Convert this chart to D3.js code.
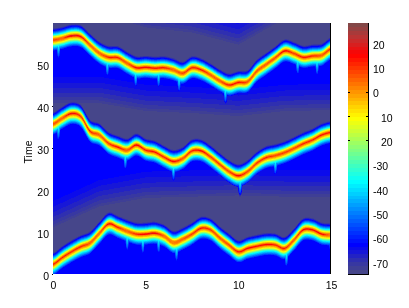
<!DOCTYPE html>
<html><head><meta charset="utf-8">
<script src="https://cdn.jsdelivr.net/npm/d3@7"></script>
<style>
html,body{margin:0;padding:0;background:#fff;width:409px;height:308px;overflow:hidden}
#c,#s{position:absolute;left:0;top:0}
text{font-family:"Liberation Sans",Arial,sans-serif;font-size:10.5px;fill:#000}
</style></head><body>
<canvas id="c" width="409" height="308"></canvas>
<svg id="s" width="409" height="308"></svg>
<script>
// Values
const xKnots = d3.range(31).map(i => i * 0.5);
const ridgeTop = [55.7,56.1,56.7,56.5,54.5,52.6,51.6,51.5,50.2,49.1,49.2,49.0,49.1,48.6,47.8,49.1,48.6,47.4,46.0,45.0,45.6,45.8,48.3,49.9,51.5,53.1,52.5,51.6,51.9,52.1,53.6];
const ridgeMid = [35.7,37.1,38.2,37.5,34.0,33.1,31.1,30.2,29.5,30.7,29.5,29.0,27.8,26.8,27.5,29.3,29.3,27.9,26.1,24.4,23.4,24.4,26.4,27.7,28.2,28.9,29.9,31.0,31.9,33.1,33.7];
const ridgeBot = [2.3,3.9,5.3,6.5,7.4,9.7,11.9,11.1,10.2,9.5,9.5,9.7,9.0,7.5,8.3,9.5,10.9,10.5,8.6,6.9,5.3,6.1,6.6,7.0,6.9,6.1,8.1,10.5,10.5,9.5,9.3];
const peakTop = [10,5,23,17,5,4,13,13,5,17,17,16,15,4,9,13,15,6,6,15,15,8,6,6,8,19,8,15,13,6,13];
const peakMid = [8,5,19,10,13,5,10,16,5,18,13,15,12,17,6,13,17,10,10,8,17,8,10,13,8,10,8,13,12,15,15];
const peakBot = [13,13,12,13,6,4,17,13,3,13,19,20,4,2,6,10,15,10,6,8,13,17,15,17,13,13,5,17,17,17,1];
const spursTop = [0.3,2.93,4.46,5.7,6.8,9.3,13.2,14.25];
const spursMid = [0.3,3.9,6.5,10.1,12.0];
const spursBot = [4.0,4.85,5.7,6.67,12.6,15.0];
const edgeKnots = [0,2.5,5,7.5,10,12.5,15];
const grayEdge0 = [62,62,58.6,57.4,54.5,60.7,62];
const grayEdge1 = [40.6,40.6,38.7,38.2,37.5,38.7,38.9];
const grayEdge2 = [11.0,16.0,18.0,18.3,18.6,18.3,18.3];
const profileUpDist = [0.3,0.7,1.0,1.25,2.1,2.9];
const profileUpLevel = [2,-11,-24,-37,-60,-75];
const profileDownDist = [0.3,0.8,1.15,1.5,2.5,3.2];
const profileDownLevel = [2,-11,-24,-37,-60,-90];
const colorKnots = [-75,-70,-63,-37,-24,-11,2,15,22,28.2];
const colorStops = ["#4a4a84","#3434a8","#0000ff","#00ffff","#80ff80","#ffff00","#ff8000","#ff0000","#c03232","#7a4a4a"];
const yTicks = [0,10,20,30,40,50];
const xTicks = [0,5,10,15];
const cbarValues = [20,10,0,-10,-20,-30,-40,-50,-60,-70];
const cbarLabels = ["20","10","0","10","20","-30","-40","-50","-60","-70"];
const cbarMarked = [0,-10,-20];

const plot = {l:53,r:331,t:23,b:274};
const xS = d3.scaleLinear().domain([0,15]).range([plot.l,plot.r]);
const yS = d3.scaleLinear().domain([0,59.76]).range([plot.b,plot.t]);
const cbar = {l:348,r:368,t:23,b:274};
const cS = d3.scaleLinear().domain([-75,28.2]).range([cbar.b,cbar.t]);

const smooth = d3.scaleLinear().domain(colorKnots).range(colorStops).interpolate(d3.interpolateRgb);
const palette = d3.range(64).map(i => smooth(-75 + (i + .5) * 103.2 / 64));
const quant = d3.scaleQuantize().domain([-75,28.2]).range(palette);

const lerp = (k,v) => d3.scaleLinear().domain(k).range(v).clamp(true);
const spline = a => x => {
  const u = Math.max(0,Math.min(a.length-1.0001,x/0.5)), i = Math.floor(u), f = u-i;
  const p0=a[Math.max(i-1,0)],p1=a[i],p2=a[i+1],p3=a[Math.min(i+2,a.length-1)];
  return 0.5*((2*p1)+(-p0+p2)*f+(2*p0-5*p1+4*p2-p3)*f*f+(-p0+3*p1-3*p2+p3)*f*f*f);
};
const ridges = [ridgeTop,ridgeMid,ridgeBot].map(spline);
const peaks = [peakTop,peakMid,peakBot].map(a => lerp(xKnots,a));
const edges = [grayEdge0,grayEdge1,grayEdge2].map(a => lerp(edgeKnots,a));
const spurs = [spursTop,spursMid,spursBot];
const spans = [7,7,7];
const upP = lerp(profileUpDist,profileUpLevel);
const downP = lerp(profileDownDist,profileDownLevel);
const spurL = lerp([1.2,2.6,4.0,5.5],[-34,-44,-56,-80]);

function field(x,t){
  const r = ridges.map(f => f(x));
  let bg = -63;
  const gap = t>r[0] ? 0 : t>r[1] ? 1 : t>r[2] ? 2 : -1;
  if(gap>=0){
    const k = Math.max(0,Math.min(1,(t-edges[gap](x))/spans[gap]));
    bg = -74 + 11*Math.pow(k,0.7);
  }
  let v = bg;
  r.forEach((ri,i)=>{
    const d = t-ri, a = Math.abs(d), pk = peaks[i](x);
    let p = a<0.3 ? pk+(2-pk)*a/0.3 : (d>0?upP(a):downP(a));
    v = Math.max(v,p);
    if(d<-1){
      let amp = 0;
      spurs[i].forEach(s=>{const q=(x-s)/0.14; amp=Math.max(amp,Math.exp(-q*q));});
      v = Math.max(v,-90+(spurL(a)+90)*amp);
    }
  });
  return v;
}

const ctx = document.getElementById("c").getContext("2d");
for(let px=plot.l;px<plot.r;px++){
  const x = xS.invert(px+.5);
  for(let py=plot.t;py<plot.b;py++){
    ctx.fillStyle = quant(field(x,yS.invert(py+.5)));
    ctx.fillRect(px,py,1,1);
  }
}
const nLevels = 64;
d3.range(nLevels).forEach(i=>{
  const v0=-75+i*103.2/nLevels, v1=v0+103.2/nLevels;
  ctx.fillStyle=palette[i];
  const y1=Math.round(cS(v1)), y0=Math.round(cS(v0));
  ctx.fillRect(cbar.l,y1,cbar.r-cbar.l,y0-y1);
});

const svg = d3.select("#s");
const ax = svg.append("g").attr("transform",`translate(0,${plot.b})`)
  .call(d3.axisBottom(xS).tickValues(xTicks).tickSize(0).tickPadding(8).tickFormat(d3.format("d")));
ax.select(".domain").remove();
const ay = svg.append("g").attr("transform",`translate(${plot.l},0)`)
  .call(d3.axisLeft(yS).tickValues(yTicks).tickSize(1).tickPadding(3).tickFormat(d3.format("d")));
ay.select(".domain").remove();
ay.selectAll("line").attr("stroke",d=>(d===0||d===30||d===40)?"#000":"none");
ay.selectAll("text").attr("y",2);
svg.selectAll("g text").style("font-size","10.5px");

// right edge of the plot, edges of the colour bar
svg.append("line").attr("x1",plot.r-.5).attr("x2",plot.r-.5).attr("y1",plot.t).attr("y2",plot.b).attr("stroke","#000");
svg.append("line").attr("x1",cbar.r+.5).attr("x2",cbar.r+.5).attr("y1",cbar.t).attr("y2",cbar.b+1).attr("stroke","#000");
svg.append("line").attr("x1",cbar.l).attr("x2",cbar.r).attr("y1",cbar.b+.5).attr("y2",cbar.b+.5).attr("stroke","#000");

const cb = svg.append("g").attr("transform",`translate(${cbar.r},0)`)
  .call(d3.axisRight(cS).tickValues(cbarValues).tickSize(0).tickPadding(5).tickFormat((d,i)=>cbarLabels[i]));
cb.select(".domain").remove();
cb.selectAll("text").attr("y",2).attr("dx",d=>(d===-10||d===-20)?8:0);
cbarMarked.forEach(v=>{
  const y=Math.round(cS(v))+.5;
  svg.append("line").attr("x1",cbar.l).attr("x2",cbar.l+2).attr("y1",y).attr("y2",y).attr("stroke","#000");
  svg.append("line").attr("x1",cbar.r-2).attr("x2",cbar.r).attr("y1",y).attr("y2",y).attr("stroke","#000");
});

svg.append("text").attr("transform","translate(32,152) rotate(-90)").attr("text-anchor","middle").text("Time");
</script>
</body></html>
